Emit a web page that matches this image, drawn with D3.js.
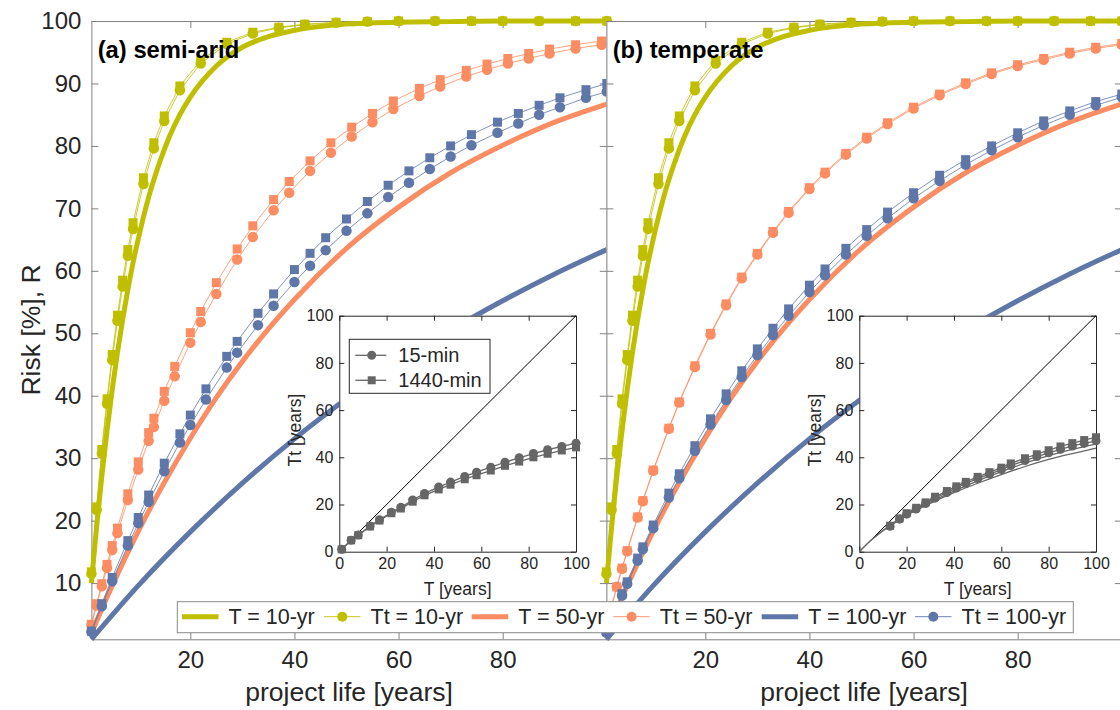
<!DOCTYPE html>
<html><head><meta charset="utf-8">
<script src="https://cdn.jsdelivr.net/npm/d3@7"></script>
<style>
html,body{margin:0;padding:0;background:#fff;overflow:hidden}
svg{display:block}
</style></head><body>
<svg id="chart" width="1120" height="710"></svg>
<script>
// ---------------- data ----------------
const xTicks = [20, 40, 60, 80];
const yTicks = [10, 20, 30, 40, 50, 60, 70, 80, 90, 100];
const insetTicks = [0, 20, 40, 60, 80, 100];
const panelTitles = ["(a) semi-arid", "(b) temperate"];
const legendLabels = ["T = 10-yr", "Tt = 10-yr", "T = 50-yr", "Tt = 50-yr", "T = 100-yr", "Tt = 100-yr"];
const insetLegendLabels = ["15-min", "1440-min"];

// theoretical risk curves (thick lines)
const nT10 = [1,2,3,4,5,6,7,8,9,10,12,14,16,18,20,25,30,35,40,50,60,70,80,90,100];
const rT10 = [10.0,19.0,27.1,34.4,41.0,46.9,52.2,57.0,61.3,65.1,71.8,77.1,81.5,85.0,87.8,92.8,95.8,97.5,98.5,99.5,99.8,99.9,100,100,100];
const nT50 = [1,5,10,15,20,25,30,40,50,60,70,80,90,100];
const rT50 = [2.0,9.6,18.3,26.1,33.2,39.7,45.5,55.4,63.6,70.2,75.7,80.1,83.8,86.7];
const nT100 = [1,10,20,30,40,50,60,70,80,90,100];
const rT100 = [1.0,9.6,18.2,26.0,33.1,39.5,45.3,50.5,55.2,59.5,63.4];

// Tt = 10-yr (both panels)
const nY10 = [1,2,3,4,5,6,7,8,9,11,13,15,18,22,27,32,37,42,48,54,60,67,74,80,87,94,100];
const rY10circ = [11.5,21.7,30.7,38.7,45.7,52.0,57.5,62.4,66.7,73.9,79.6,84.0,88.9,93.2,96.3,98.0,98.9,99.4,99.7,99.9,100,100,100,100,100,100,100];
const rY10sq = [11.8,22.2,31.4,39.5,46.6,52.9,58.5,63.4,67.7,74.9,80.5,84.8,89.6,93.7,96.6,98.2,99.0,99.5,99.8,99.9,100,100,100,100,100,100,100];

// (a) semi-arid, Tt = 50-yr
const nA50 = [1,2,3,4,5,6,8,10,12,13,15,17,20,22,25,29,32,36,39,43,47,51,55,59,64,68,73,77,81,85,89,94,99];
const rA50circ = [3.3,6.4,9.5,12.4,15.3,18.0,23.3,28.2,32.8,35.0,39.2,43.1,48.5,51.8,56.3,61.8,65.4,69.7,72.5,76.0,78.9,81.5,83.8,85.9,88.0,89.5,91.1,92.2,93.2,94.0,94.8,95.6,96.2];
const rA50sq = [3.4,6.7,9.9,13.0,16.0,18.8,24.3,29.4,34.1,36.4,40.7,44.7,50.1,53.5,58.1,63.5,67.2,71.4,74.3,77.6,80.5,83.0,85.2,87.2,89.2,90.6,92.1,93.1,94.0,94.8,95.5,96.2,96.8];
// (a) semi-arid, Tt = 100-yr
const nA100 = [1,3,5,8,10,12,15,18,20,23,27,29,33,36,40,43,46,50,54,58,62,66,70,74,79,83,87,91,96,100];
const rA100circ = [2.2,6.3,10.3,16.0,19.6,23.0,27.9,32.5,35.3,39.4,44.5,46.9,51.3,54.4,58.2,60.8,63.3,66.4,69.2,71.8,74.1,76.3,78.3,80.1,82.1,83.6,85.0,86.2,87.7,88.7];
const rA100sq = [2.3,6.7,10.9,16.8,20.5,24.1,29.2,33.9,36.9,41.1,46.3,48.7,53.2,56.3,60.2,62.8,65.3,68.3,71.1,73.7,76.0,78.1,80.0,81.8,83.8,85.2,86.5,87.7,89.0,90.0];

// (b) temperate, Tt = 50-yr and 100-yr
const nB = [1,2,3,4,5,7,8,10,13,15,18,21,24,27,30,33,36,40,43,47,51,55,60,65,70,75,80,85,90,95,100];
const rB50circ = [3.2,6.3,9.4,12.3,15.1,20.5,23.1,28.0,34.7,38.9,44.6,49.8,54.5,58.8,62.6,66.1,69.3,73.1,75.6,78.6,81.2,83.5,86.0,88.1,89.9,91.5,92.8,93.8,94.8,95.6,96.2];
const rB50sq = [3.2,6.3,9.4,12.4,15.2,20.6,23.2,28.1,34.8,39.0,44.8,50.0,54.7,59.0,62.8,66.3,69.5,73.3,75.8,78.8,81.4,83.7,86.2,88.3,90.1,91.7,93.0,94.0,95.0,95.8,96.4];
const rB100circ = [2.1,4.2,6.1,8.0,9.9,13.6,15.4,18.8,23.7,26.8,31.2,35.4,39.3,43.0,46.5,49.7,52.8,56.6,59.3,62.6,65.6,68.4,71.6,74.4,77.0,79.3,81.4,83.3,85.0,86.5,87.8];
const rB100sq = [2.2,4.3,6.3,8.3,10.2,14.0,15.8,19.3,24.4,27.5,32.0,36.3,40.3,44.0,47.5,50.8,53.9,57.7,60.3,63.6,66.6,69.4,72.5,75.3,77.8,80.0,82.1,84.0,85.6,87.1,88.3];

// insets: Tt vs T
const insetA_T = [1,5,8,13,17,22,26,31,36,42,47,53,58,64,70,76,82,88,94,100];
const insetA_circ = [1.0,4.9,7.1,10.9,13.5,16.7,18.8,21.9,24.7,27.4,29.5,31.9,33.7,35.8,37.9,39.8,41.6,43.2,44.6,46.0];
const insetA_sq = [1.0,4.8,7.0,10.7,13.2,16.3,18.3,21.2,23.9,26.4,28.4,30.7,32.4,34.4,36.4,38.2,40.0,41.5,42.9,44.2];
const insetB_T = [13,17,20,24,28,32,37,41,45,50,55,60,64,70,75,80,85,90,95,100];
const insetB_circ = [10.8,13.8,15.9,18.1,20.4,22.7,25.1,27.0,28.9,31.0,32.9,34.8,36.5,38.6,40.3,41.9,43.4,44.8,45.9,47.0];
const insetB_sq = [11.0,14.1,16.3,18.6,20.9,23.3,25.7,27.7,29.6,31.7,33.7,35.6,37.4,39.6,41.3,43.0,44.6,46.0,47.3,48.5];
const insetB_fitT = [0,5,10,15,20,30,40,50,60,70,80,90,100];
const insetB_fitLow = [0,4.9,8.9,12.4,15.4,20.5,25.0,29.0,32.7,36.1,39.1,41.6,43.9];
const insetB_fitHigh = [0,4.9,9.0,12.6,15.7,21.0,25.7,30.0,33.9,37.5,40.7,43.4,45.6];
const diagT = [0, 100];

// ---------------- style ----------------
const FONT = '"Liberation Sans", Arial, Helvetica, sans-serif';
const C10 = '#bfbf00', C50 = '#fc8d62', C100 = '#5f77a8', CGRAY = '#666666';
const AXC = '#808080', TXT = '#262626';

const svg = d3.select('#chart');
const yMain = d3.scaleLinear().domain([1, 100]).range([639.3, 21]);
const xA = d3.scaleLinear().domain([1, 100]).range([91.4, 606.8]);
const xB = d3.scaleLinear().domain([1, 100]).range([606.4, 1121.8]);

function styleAxis(sel, fs, col) {
  sel.attr('font-family', FONT).attr('font-size', fs);
  sel.select('.domain').attr('stroke', col).attr('stroke-width', 1);
  sel.selectAll('.tick line').attr('stroke', col).attr('stroke-width', 1);
  sel.selectAll('.tick text').attr('fill', TXT);
}

function mainAxes(g, x, showY) {
  const [x0, x1] = x.range(), [yb, yt] = yMain.range();
  g.append('g').attr('transform', `translate(0,${yb})`)
    .call(d3.axisBottom(x).tickValues(xTicks).tickSize(-7).tickSizeOuter(0).tickPadding(12).tickFormat(d3.format('d')))
    .call(s => styleAxis(s, 24, AXC));
  g.append('g').attr('transform', `translate(0,${yt})`)
    .call(d3.axisTop(x).tickValues(xTicks).tickSize(-7).tickSizeOuter(0).tickFormat(''))
    .call(s => styleAxis(s, 24, AXC));
  g.append('g').attr('transform', `translate(${x0},0)`)
    .call(d3.axisLeft(yMain).tickValues(yTicks).tickSize(-7).tickSizeOuter(0).tickPadding(10).tickFormat(showY ? d3.format('d') : ''))
    .call(s => styleAxis(s, 24, AXC));
  g.append('g').attr('transform', `translate(${x1},0)`)
    .call(d3.axisRight(yMain).tickValues(yTicks).tickSize(-7).tickSizeOuter(0).tickFormat(''))
    .call(s => styleAxis(s, 24, AXC));
}

function thick(g, x, n, r, col) {
  g.append('path').datum(d3.zip(n, r))
    .attr('d', d3.line().curve(d3.curveMonotoneX).x(d => x(d[0])).y(d => yMain(d[1])))
    .attr('fill', 'none').attr('stroke', col).attr('stroke-width', 5);
}

function markerSeries(g, x, y, n, r, col, shape, size, lw) {
  const data = d3.zip(n, r);
  g.append('path').datum(data)
    .attr('d', d3.line().x(d => x(d[0])).y(d => y(d[1])))
    .attr('fill', 'none').attr('stroke', col).attr('stroke-width', lw);
  if (shape === 'circle') {
    g.append('g').selectAll('circle').data(data).join('circle')
      .attr('cx', d => x(d[0])).attr('cy', d => y(d[1])).attr('r', size / 2).attr('fill', col);
  } else {
    g.append('g').selectAll('rect').data(data).join('rect')
      .attr('x', d => x(d[0]) - size / 2).attr('y', d => y(d[1]) - size / 2)
      .attr('width', size).attr('height', size).attr('fill', col);
  }
}

function mainPanel(x, showY, title, sets) {
  const g = svg.append('g');
  const [x0, x1] = x.range(), [yb, yt] = yMain.range();
  g.append('rect').attr('x', x0).attr('y', yt).attr('width', x1 - x0).attr('height', yb - yt).attr('fill', '#fff');
  mainAxes(g, x, showY);
  thick(g, x, nT10, rT10, C10);
  markerSeries(g, x, yMain, sets.n10, sets.s10, C10, 'square', 9, 0.8);
  markerSeries(g, x, yMain, sets.n10, sets.c10, C10, 'circle', 10.5, 0.8);
  thick(g, x, nT50, rT50, C50);
  markerSeries(g, x, yMain, sets.n50, sets.s50, C50, 'square', 9, 0.8);
  markerSeries(g, x, yMain, sets.n50, sets.c50, C50, 'circle', 10.5, 0.8);
  thick(g, x, nT100, rT100, C100);
  markerSeries(g, x, yMain, sets.n100, sets.s100, C100, 'square', 9, 0.8);
  markerSeries(g, x, yMain, sets.n100, sets.c100, C100, 'circle', 10.5, 0.8);
  g.append('text').attr('x', x0 + 6.3).attr('y', 58).text(title)
    .attr('font-family', FONT).attr('font-weight', 'bold').attr('font-size', 23.8).attr('fill', '#000');
  g.append('text').attr('x', (x0 + x1) / 2).attr('y', 701).attr('text-anchor', 'middle').text('project life [years]')
    .attr('font-family', FONT).attr('font-size', 26.5).attr('fill', TXT);
  return g;
}

mainPanel(xA, true, panelTitles[0], {
  n10: nY10, c10: rY10circ, s10: rY10sq,
  n50: nA50, c50: rA50circ, s50: rA50sq,
  n100: nA100, c100: rA100circ, s100: rA100sq
});
mainPanel(xB, false, panelTitles[1], {
  n10: nY10, c10: rY10circ, s10: rY10sq,
  n50: nB, c50: rB50circ, s50: rB50sq,
  n100: nB, c100: rB100circ, s100: rB100sq
});

svg.append('text').attr('transform', 'translate(40,330) rotate(-90)').attr('text-anchor', 'middle')
  .text('Risk [%], R').attr('font-family', FONT).attr('font-size', 26.5).attr('fill', TXT);

// ---------------- insets ----------------
function inset(xr, withLegend, seriesFn) {
  const xi = d3.scaleLinear().domain([0, 100]).range(xr);
  const yi = d3.scaleLinear().domain([0, 100]).range([551.7, 315.7]);
  const g = svg.append('g');
  g.append('rect').attr('x', xr[0]).attr('y', 315.7).attr('width', xr[1] - xr[0]).attr('height', 236).attr('fill', '#fff');
  const IC = '#262626';
  g.append('g').attr('transform', 'translate(0,551.7)')
    .call(d3.axisBottom(xi).tickValues(insetTicks).tickSize(-5).tickSizeOuter(0).tickPadding(6))
    .call(s => styleAxis(s, 16, IC));
  g.append('g').attr('transform', 'translate(0,315.7)')
    .call(d3.axisTop(xi).tickValues(insetTicks).tickSize(-5).tickSizeOuter(0).tickFormat(''))
    .call(s => styleAxis(s, 16, IC));
  g.append('g').attr('transform', `translate(${xr[0]},0)`)
    .call(d3.axisLeft(yi).tickValues(insetTicks).tickSize(-5).tickSizeOuter(0).tickPadding(6))
    .call(s => styleAxis(s, 16, IC));
  g.append('g').attr('transform', `translate(${xr[1]},0)`)
    .call(d3.axisRight(yi).tickValues(insetTicks).tickSize(-5).tickSizeOuter(0).tickFormat(''))
    .call(s => styleAxis(s, 16, IC));
  g.append('path').datum(d3.zip(diagT, diagT))
    .attr('d', d3.line().x(d => xi(d[0])).y(d => yi(d[1])))
    .attr('stroke', '#000').attr('stroke-width', 1).attr('fill', 'none');
  seriesFn(g, xi, yi);
  g.append('text').attr('x', (xr[0] + xr[1]) / 2).attr('y', 595).attr('text-anchor', 'middle').text('T [years]')
    .attr('font-family', FONT).attr('font-size', 17.5).attr('fill', TXT);
  g.append('text').attr('transform', `translate(${xr[0] - 38},430) rotate(-90)`).attr('text-anchor', 'middle').text('Tt [years]')
    .attr('font-family', FONT).attr('font-size', 17.5).attr('fill', TXT);
  if (withLegend) {
    const lx = xr[0] + 10, ly = 339.3;
    g.append('rect').attr('x', lx).attr('y', ly).attr('width', 140.7).attr('height', 54)
      .attr('fill', '#fff').attr('stroke', '#262626').attr('stroke-width', 1);
    insetLegendLabels.forEach((lab, i) => {
      const cy = ly + 16 + i * 25;
      g.append('line').attr('x1', lx + 6).attr('x2', lx + 37).attr('y1', cy).attr('y2', cy)
        .attr('stroke', CGRAY).attr('stroke-width', 1.3);
      if (i === 0) g.append('circle').attr('cx', lx + 22.4).attr('cy', cy).attr('r', 4.5).attr('fill', CGRAY);
      else g.append('rect').attr('x', lx + 22.4 - 4).attr('y', cy - 4).attr('width', 8).attr('height', 8).attr('fill', CGRAY);
      g.append('text').attr('x', lx + 49).attr('y', cy + 7).text(lab)
        .attr('font-family', FONT).attr('font-size', 20).attr('fill', TXT);
    });
  }
}

inset([339.3, 576], true, (g, xi, yi) => {
  markerSeries(g, xi, yi, insetA_T, insetA_sq, CGRAY, 'square', 8, 1.3);
  markerSeries(g, xi, yi, insetA_T, insetA_circ, CGRAY, 'circle', 9, 1.3);
});
inset([859.3, 1096], false, (g, xi, yi) => {
  [insetB_fitLow, insetB_fitHigh].forEach(arr => {
    g.append('path').datum(d3.zip(insetB_fitT, arr))
      .attr('d', d3.line().curve(d3.curveMonotoneX).x(d => xi(d[0])).y(d => yi(d[1])))
      .attr('fill', 'none').attr('stroke', CGRAY).attr('stroke-width', 1.3);
  });
  markerSeries(g, xi, yi, insetB_T, insetB_sq, CGRAY, 'square', 8, 1.3);
  markerSeries(g, xi, yi, insetB_T, insetB_circ, CGRAY, 'circle', 9, 1.3);
});

// ---------------- main legend ----------------
const lg = svg.append('g');
lg.append('rect').attr('x', 177.3).attr('y', 601.7).attr('width', 896).attr('height', 31)
  .attr('fill', '#fff').attr('stroke', '#8a8a8a').attr('stroke-width', 1);
const legendStarts = [182, 324, 471.7, 613.3, 761.7, 915];
const legendCols = [C10, C10, C50, C50, C100, C100];
legendLabels.forEach((lab, i) => {
  const x0 = legendStarts[i], cy = 616.7, thickLine = i % 2 === 0;
  lg.append('line').attr('x1', x0).attr('x2', x0 + 36.5).attr('y1', cy).attr('y2', cy)
    .attr('stroke', legendCols[i]).attr('stroke-width', thickLine ? 5 : 0.9);
  if (!thickLine) lg.append('circle').attr('cx', x0 + 18.3).attr('cy', cy).attr('r', 5).attr('fill', legendCols[i]);
  lg.append('text').attr('x', x0 + 46.5).attr('y', cy + 7.6).text(lab)
    .attr('font-family', FONT).attr('font-size', 21.5).attr('fill', TXT);
});
</script></body></html>
